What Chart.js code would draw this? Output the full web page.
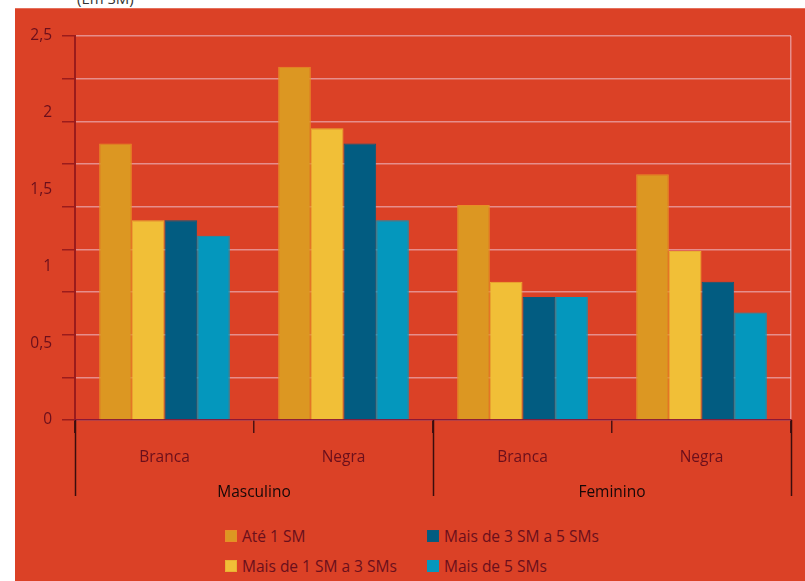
<!DOCTYPE html>
<html lang="pt">
<head>
<meta charset="utf-8">
<script src="https://cdn.jsdelivr.net/npm/chart.js"></script>
<style>
  html, body { margin: 0; padding: 0; background: #ffffff; overflow: hidden; }
  body { width: 805px; height: 581px; position: relative; font-family: "Open Sans", "Noto Sans", sans-serif; }
  .unidade { position: absolute; left: 77px; top: -12px; font-size: 15px; color: #333333; }
  .painel { position: absolute; left: 15px; top: 8px; width: 790px; height: 573px; background: #db4126; border-top: 1px solid #e4705c; box-sizing: border-box; }
  #grafico { display: block; }
  #legenda {
    display: grid;
    grid-template-columns: 202px 220px;
    grid-template-rows: 30px 30px;
    grid-auto-flow: column;
    margin: 12px 0 0 210px;
  }
  .item { display: flex; align-items: center; font-size: 15.5px; color: #6a0f1c; }
  .caixa { width: 12px; height: 12px; margin-right: 5px; box-sizing: border-box; }
</style>
</head>
<body>
<div class="unidade">(Em SM)</div>
<div class="painel">
  <canvas id="grafico" width="790" height="500"></canvas>
  <div id="legenda"></div>
</div>
<script>
// categorias (cor) e grupos (sexo)
const categorias = ['Branca', 'Negra', 'Branca', 'Negra'];
const grupos = ['Masculino', 'Feminino'];

// valores por faixa de renda
const ate1SM = [1.8, 2.3, 1.4, 1.6];
const de1a3SM = [1.3, 1.9, 0.9, 1.1];
const de3a5SM = [1.3, 1.8, 0.8, 0.9];
const mais5SM = [1.2, 1.3, 0.8, 0.7];

// rótulos do eixo y e número de divisões da grade
const rotulosY = [0, 0.5, 1, 1.5, 2, 2.5];
const divisoesGrade = 9;
const maxY = 2.5;

const corGrade = 'rgba(236, 185, 195, 0.65)';
const corTexto = '#6a0f1c';
const fonte = { family: '"Open Sans", "Noto Sans", sans-serif', size: 15.5 };

const valoresGrade = [];
for (let i = 0; i <= divisoesGrade; i++) valoresGrade.push(i * maxY / divisoesGrade);
const perto = (a, b) => Math.abs(a - b) < 1e-6;
const ehGrade = v => valoresGrade.some(g => perto(g, v));
const ehRotulo = v => rotulosY.some(r => perto(r, v));
const todosTicks = valoresGrade.concat(rotulosY.filter(v => !ehGrade(v))).sort((a, b) => a - b);

// linhas que separam os grupos abaixo do eixo x
const separadores = {
  id: 'separadores',
  afterDraw(chart) {
    const x = chart.scales.x;
    const area = chart.chartArea;
    const meio = (x.getPixelForValue(1) - x.getPixelForValue(0)) / 2;
    const ctx = chart.ctx;
    ctx.save();
    ctx.strokeStyle = '#3a0d0d';
    ctx.lineWidth = 1.5;
    [0, 2, 4].forEach(i => {
      const px = Math.round(x.getPixelForValue(i) - meio) + 0.5;
      ctx.beginPath();
      ctx.moveTo(px, area.bottom);
      ctx.lineTo(px, area.bottom + 76);
      ctx.stroke();
    });
    ctx.restore();
  }
};

const grafico = new Chart(document.getElementById('grafico'), {
  type: 'bar',
  data: {
    labels: categorias,
    datasets: [
      { label: 'Até 1 SM', data: ate1SM, backgroundColor: '#dc9722', borderColor: '#e88d26', borderWidth: 1 },
      { label: 'Mais de 1 SM a 3 SMs', data: de1a3SM, backgroundColor: '#f1bf37', borderColor: '#eab032', borderWidth: 1 },
      { label: 'Mais de 3 SM a 5 SMs', data: de3a5SM, backgroundColor: '#025c81', borderColor: '#0b5a7c', borderWidth: 1 },
      { label: 'Mais de 5 SMs', data: mais5SM, backgroundColor: '#0497bd', borderColor: '#0497bd', borderWidth: 1 }
    ]
  },
  options: {
    responsive: false,
    animation: false,
    categoryPercentage: 0.73,
    barPercentage: 1,
    layout: { padding: { top: 27, right: 14, bottom: 4, left: 0 } },
    plugins: {
      legend: { display: false },
      tooltip: { enabled: false }
    },
    scales: {
      y: {
        min: 0,
        max: maxY,
        afterBuildTicks: s => { s.ticks = todosTicks.map(v => ({ value: v })); },
        afterFit: s => { s.width = 60; },
        border: { color: '#9b1c1c', width: 2 },
        grid: {
          color: c => (c.tick && ehGrade(c.tick.value) ? corGrade : 'transparent'),
          tickColor: c => (c.tick && ehGrade(c.tick.value) ? '#9b1c1c' : 'transparent'),
          tickLength: 13,
          lineWidth: 1.5
        },
        ticks: {
          autoSkip: false,
          padding: 10,
          color: corTexto,
          font: fonte,
          callback: v => (ehRotulo(v) ? String(v).replace('.', ',') : '')
        }
      },
      x: {
        offset: true,
        afterFit: s => { s.height = 50; },
        border: { color: '#8c1836', width: 1.5 },
        grid: {
          offset: true,
          color: c => (c.type === 'tick' ? 'transparent' : corGrade),
          tickColor: '#4a1212',
          tickLength: 13,
          lineWidth: 1.5
        },
        ticks: {
          padding: 15,
          color: corTexto,
          font: fonte
        }
      },
      xGrupo: {
        type: 'category',
        labels: grupos,
        position: 'bottom',
        offset: true,
        afterFit: s => { s.height = 35; },
        border: { display: false },
        grid: { display: false, drawTicks: false },
        ticks: {
          padding: 13,
          color: '#150808',
          font: fonte
        }
      }
    }
  },
  plugins: [separadores]
});

// legenda em duas colunas
const legenda = document.getElementById('legenda');
grafico.data.datasets.forEach(ds => {
  const item = document.createElement('div');
  item.className = 'item';
  item.innerHTML = `<span class="caixa" style="background:${ds.backgroundColor};border:1px solid ${ds.borderColor}"></span>${ds.label}`;
  legenda.appendChild(item);
});
</script>
</body>
</html>
